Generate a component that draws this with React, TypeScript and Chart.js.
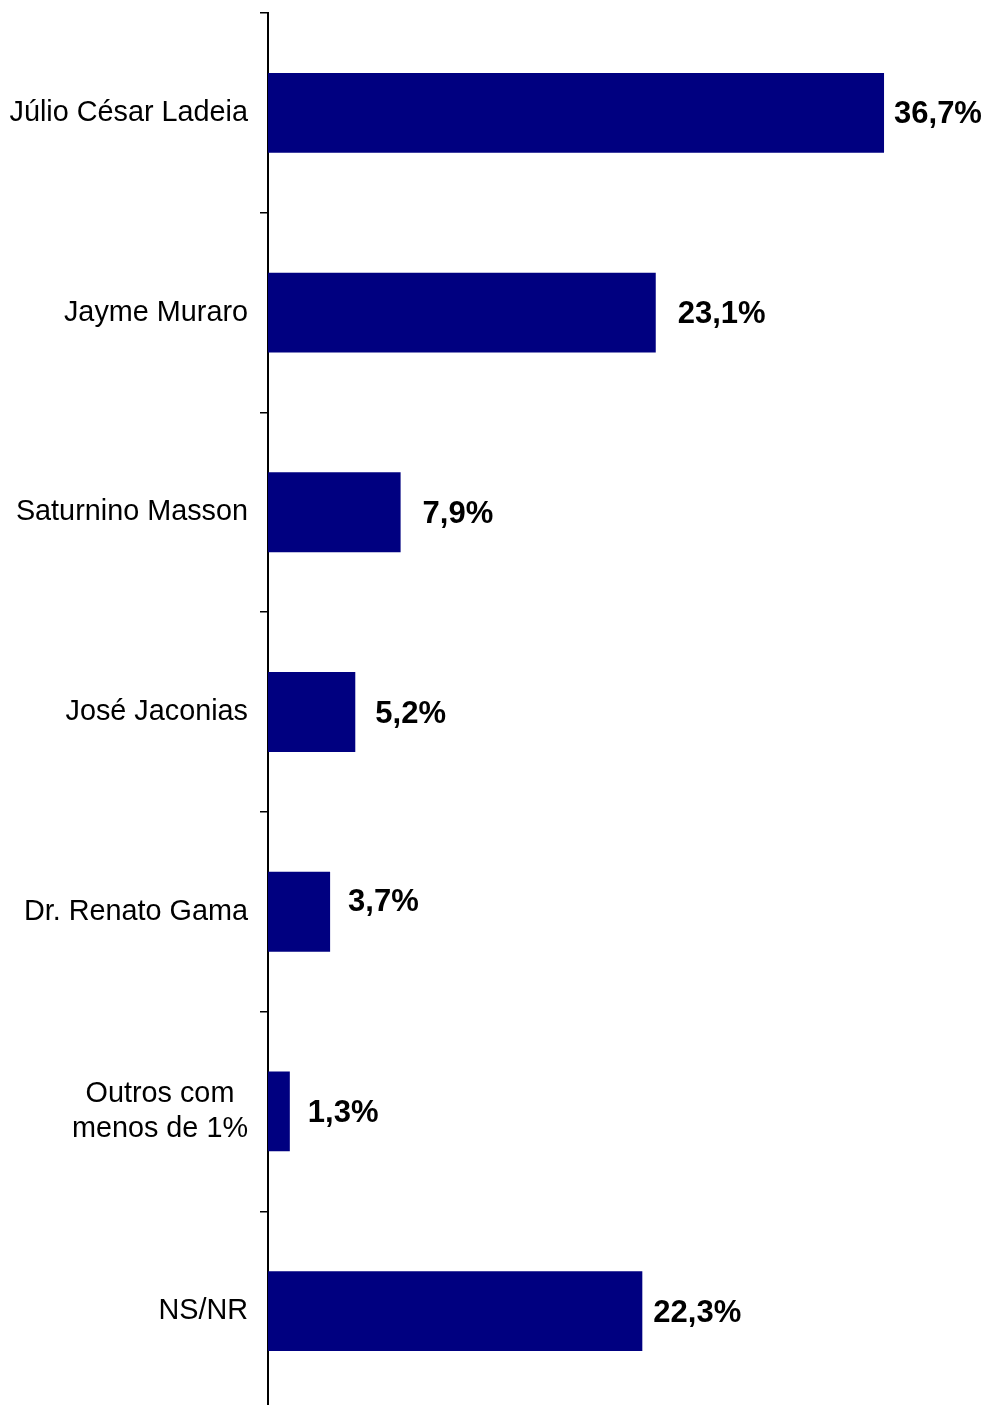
import React, { useEffect, useRef } from "react";
import { Chart, registerables } from "chart.js";

Chart.register(...registerables);

const categories: string[][] = [
  ["Júlio César Ladeia"],
  ["Jayme Muraro"],
  ["Saturnino Masson"],
  ["José Jaconias"],
  ["Dr. Renato Gama"],
  ["Outros com", "menos de 1%"],
  ["NS/NR"],
];
const values: number[] = [36.7, 23.1, 7.9, 5.2, 3.7, 1.3, 22.3];

// label placement tweaks (style only): horizontal gap from bar end and vertical shift
const labelGapX: number[] = [10, 22, 22, 20, 18, 18, 11];
const labelShiftY: number[] = [2, 2, 2, 2, -9, 2, 2];

const FONT = '"Liberation Sans", Arial, sans-serif';

const labelsPlugin = {
  id: "customLabels",
  afterDatasetsDraw(chart: any) {
    const ctx = chart.ctx;
    const meta = chart.getDatasetMeta(0);
    ctx.save();
    ctx.font = `bold 31px ${FONT}`;
    ctx.fillStyle = "#000";
    ctx.textAlign = "left";
    ctx.textBaseline = "middle";
    meta.data.forEach((bar: any, i: number) => {
      const txt = values[i].toFixed(1).replace(".", ",") + "%";
      ctx.fillText(txt, bar.x + labelGapX[i], bar.y + labelShiftY[i]);
    });
    ctx.restore();
  },
  afterDraw(chart: any) {
    const ctx = chart.ctx;
    const yScale = chart.scales.y;
    ctx.save();
    ctx.font = `28.8px ${FONT}`;
    ctx.fillStyle = "#000";
    ctx.textBaseline = "middle";
    ctx.textAlign = "center";
    const right = chart.chartArea.left - 20;
    const lineH = 35;
    categories.forEach((lines, i) => {
      const cy = yScale.getPixelForValue(i);
      const maxW = Math.max(...lines.map((l) => ctx.measureText(l).width));
      const cx = right - maxW / 2;
      const startY = cy - ((lines.length - 1) * lineH) / 2;
      lines.forEach((l, j) => {
        ctx.fillText(l, cx, startY + j * lineH);
      });
    });
    ctx.restore();
  },
};

export default function App() {
  const ref = useRef<HTMLCanvasElement>(null);
  useEffect(() => {
    if (!ref.current) return;
    const chart = new Chart(ref.current, {
      type: "bar",
      data: {
        labels: categories.map((c) => c.join(" ")),
        datasets: [
          {
            data: values,
            backgroundColor: "#000080",
            borderWidth: 0,
            barPercentage: 0.8,
            categoryPercentage: 0.5,
          },
        ],
      },
      options: {
        indexAxis: "y",
        animation: false,
        responsive: false,
        devicePixelRatio: 1,
        layout: { padding: { top: 13, bottom: 9, left: 0, right: 14 } },
        plugins: {
          legend: { display: false },
          tooltip: { enabled: false },
        },
        scales: {
          x: {
            display: false,
            min: 0,
            max: 42,
          },
          y: {
            display: true,
            offset: true,
            ticks: { display: false },
            grid: {
              display: true,
              offset: true,
              drawOnChartArea: false,
              drawTicks: true,
              tickLength: 8,
              color: "#000",
              lineWidth: 1.5,
            },
            border: { display: true, color: "#000", width: 2 },
            afterFit: (scale: any) => {
              scale.width = 268;
            },
          },
        },
      },
      plugins: [labelsPlugin],
    });
    return () => chart.destroy();
  }, []);
  return (
    <div style={{ position: "absolute", top: 0, left: 0 }}>
      <canvas ref={ref} width={987} height={1420} style={{ display: "block" }} />
    </div>
  );
}
